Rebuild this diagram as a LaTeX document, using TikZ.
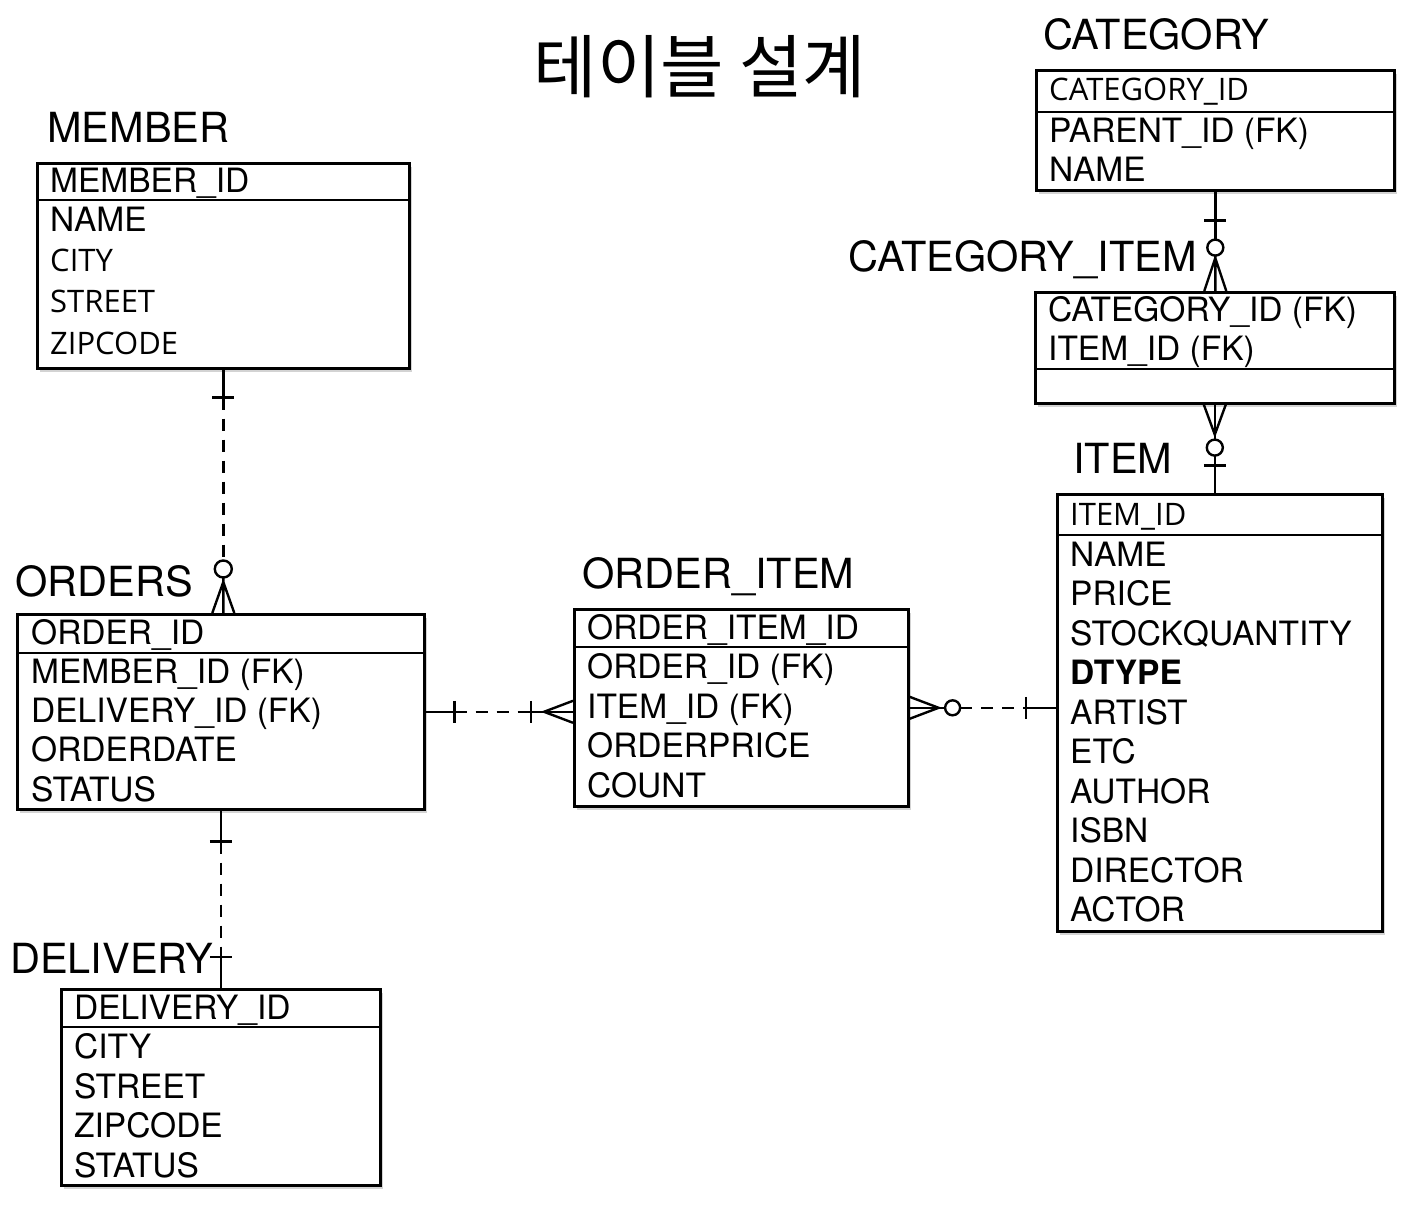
\documentclass[tikz,border=0pt]{standalone}
\usepackage{fontspec}
\setmainfont{TeX Gyre Heros}
\newfontfamily\opensans{Open Sans}
\newfontfamily\hangul{Noto Sans CJK KR}
\usetikzlibrary{positioning,shadows,calc}
\newcommand{\os}{\opensans\fontsize{31}{35}\selectfont}

\begin{document}
\begin{tikzpicture}[x=1pt,y=-1pt,
  tbl/.style={draw,line width=2.6pt,fill=white,anchor=north west,inner sep=0pt,
    drop shadow={shadow xshift=2.5pt,shadow yshift=-3.5pt,opacity=.35}},
  fld/.style={anchor=west,inner sep=0pt,text height=24pt,text depth=0pt,font=\fontsize{33.5}{37}\selectfont},
  ttl/.style={anchor=west,inner sep=0pt,text height=30pt,text depth=0pt,font=\fontsize{41.5}{46}\selectfont},
  rel/.style={line width=2.4pt},
  dsh/.style={rel,dash pattern=on 12pt off 9pt}]
\useasboundingbox (0,0) rectangle (1414,1214);

\node[font=\hangul\fontsize{69}{76}\selectfont,inner sep=0pt] (title) at (700,67) {테이블 설계};

% tables
\node[tbl,minimum width=372pt,minimum height=205pt] (member) at (36,162) {};
\node[tbl,minimum width=407pt,minimum height=195pt] (orders) at (16,613) {};
\node[tbl,minimum width=319pt,minimum height=196pt] (delivery) at (60,988) {};
\node[tbl,minimum width=334pt,minimum height=197pt] (oitem) at (573,608) {};
\node[tbl,minimum width=358pt,minimum height=120pt] (category) at (1035,69) {};
\node[tbl,minimum width=359pt,minimum height=111pt] (catitem) at (1034,291) {};
\node[tbl,minimum width=325pt,minimum height=437pt] (item) at (1056,493) {};

\foreach \t/\y in {member/200,orders/653,delivery/1027,oitem/647,category/112,catitem/369,item/535}
  \draw[line width=2.6pt] (\t.west |- 0,\y) -- (\t.east |- 0,\y);

% titles
\node[ttl] (memberT) at (47,128) {MEMBER};
\node[ttl] (ordersT) at (15,581) {ORDERS};
\node[ttl] (deliveryT) at (10,958) {DELIVERY};
\node[ttl] (oitemT) at (582,573) {ORDER\_ITEM};
\node[ttl] (categoryT) at (1043,35) {CATEGORY};
\node[ttl,anchor=east] (catitemT) at (1197,257) {CATEGORY\_ITEM};
\node[ttl] (itemT) at (1073,459) {ITEM};

% fields
\foreach \t/\y [count=\i] in {MEMBER\_ID/181,NAME/220,\os CITY/260,\os STREET/301,\os ZIPCODE/343}
  \node[fld] (member\i) at (50,\y) {\t};
\foreach \t [count=\i from 0] in {ORDER\_ID,MEMBER\_ID (FK),DELIVERY\_ID (FK),ORDERDATE,STATUS}
  \node[fld] (orders\i) at (31,{632+39.3*\i}) {\t};
\foreach \t [count=\i from 0] in {DELIVERY\_ID,CITY,STREET,ZIPCODE,STATUS}
  \node[fld] (delivery\i) at (74,{1007+39.5*\i}) {\t};
\foreach \t [count=\i from 0] in {ORDER\_ITEM\_ID,ORDER\_ID (FK),ITEM\_ID (FK),ORDERPRICE,COUNT}
  \node[fld] (oitem\i) at (587,{627+39.5*\i}) {\t};
\foreach \t/\y [count=\i] in {\os CATEGORY\_ID/89,PARENT\_ID (FK)/131,NAME/170}
  \node[fld] (category\i) at (1049,\y) {\t};
\foreach \t/\y [count=\i] in {CATEGORY\_ID (FK)/310,ITEM\_ID (FK)/349}
  \node[fld] (catitem\i) at (1048,\y) {\t};
\node[fld] (item0) at (1070,513) {\os ITEM\_ID};
\foreach \t [count=\i] in {NAME,PRICE,STOCKQUANTITY,\bfseries DTYPE,ARTIST,ETC,AUTHOR,ISBN,DIRECTOR,ACTOR}
  \node[fld] (item\i) at (1070,{514.5+39.5*\i}) {\t};

% MEMBER - ORDERS
\coordinate (mo) at (member.south |- orders.north);
\draw[rel] (member.south) -- ++(0,28) ++(-11,0) -- ++(22,0);
\draw[dsh] (member.south) ++(0,28) -- ($(mo)+(0,-52)$);
\draw[rel] ($(mo)+(0,-44)$) circle[radius=8.5pt];
\draw[rel] ($(mo)+(0,-35.5)$) -- (mo) ($(mo)+(-11,0)$) -- ($(mo)+(0,-31)$) -- ($(mo)+(11,0)$);

% ORDERS - DELIVERY
\coordinate (od) at (orders.south |- delivery.north);
\draw[rel] (orders.south) -- ++(0,31) ++(-11,0) -- ++(22,0);
\draw[dsh] (orders.south) ++(0,31) -- ($(od)+(0,-31)$);
\draw[rel] (od) -- ++(0,-31) ++(-11,0) -- ++(22,0);

% ORDERS - ORDER_ITEM
\coordinate (oi) at (orders.east -| oitem.west);
\draw[rel] (orders.east) -- ++(29,0) ++(0,-11) -- ++(0,22);
\draw[dsh] (orders.east) ++(29,0) -- ($(oi)+(-42,0)$);
\draw[rel] (oi) -- ++(-42,0) ++(0,-11) -- ++(0,22);
\draw[rel] ($(oi)+(0,-11)$) -- ($(oi)+(-29,0)$) -- ($(oi)+(0,11)$);

% ORDER_ITEM - ITEM
\coordinate (ii) at (oitem.east -| item.west);
\draw[rel] ($(oitem.east)+(0,-11)$) -- ($(oitem.east)+(29,0)$) -- ($(oitem.east)+(0,11)$);
\draw[rel] (oitem.east) -- ++(35.5,0);
\draw[rel] ($(oitem.east)+(43,0)$) circle[radius=7.5pt];
\draw[dsh] ($(oitem.east)+(50.5,0)$) -- ($(ii)+(-30,0)$);
\draw[rel] (ii) -- ++(-30,0) ++(0,-11) -- ++(0,22);

% CATEGORY - CATEGORY_ITEM
\coordinate (cc) at (category.south |- catitem.north);
\draw[rel] (category.south) -- ++(0,48) ($(category.south)+(-11,29)$) -- ++(22,0);
\draw[rel] ($(category.south)+(0,56)$) circle[radius=8pt];
\draw[rel] ($(category.south)+(0,64)$) -- (cc) ($(cc)+(-11,0)$) -- ($(cc)+(0,-33)$) -- ($(cc)+(11,0)$);

% CATEGORY_ITEM - ITEM
\coordinate (ci) at (catitem.south |- item.north);
\draw[rel] ($(catitem.south)+(-11,0)$) -- ($(catitem.south)+(0,30)$) -- ($(catitem.south)+(11,0)$);
\draw[rel] (catitem.south) -- ++(0,35);
\draw[rel] ($(catitem.south)+(0,43)$) circle[radius=8pt];
\draw[rel] ($(catitem.south)+(0,51)$) -- (ci) ($(catitem.south)+(-11,61)$) -- ++(22,0);
\end{tikzpicture}
\end{document}
